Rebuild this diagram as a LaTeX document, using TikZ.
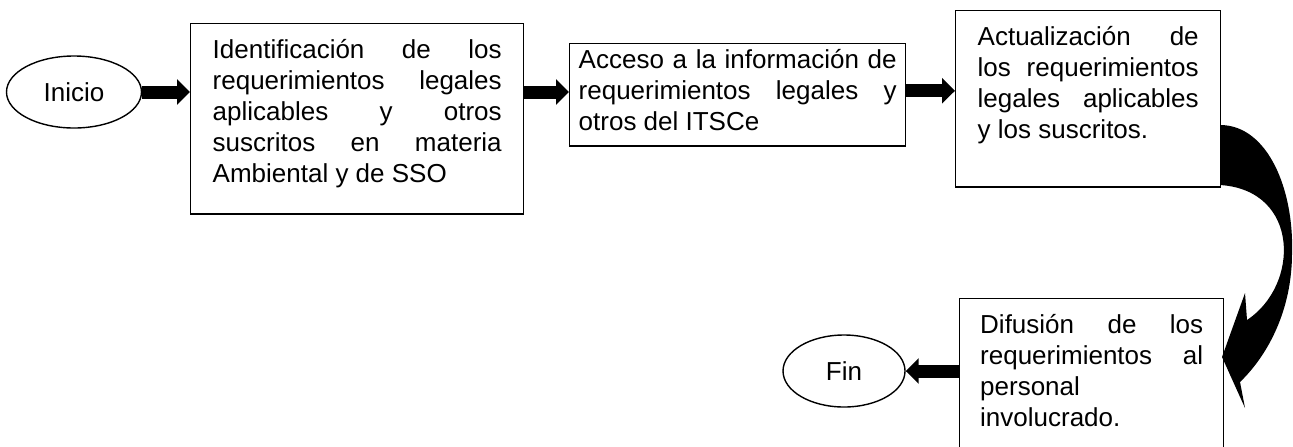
\documentclass[tikz,border=0pt]{standalone}
\usepackage{fontspec}
\setmainfont{Liberation Sans}
\usepackage{tikz}
\tikzset{
paso/.style={draw, line width=0.7pt, anchor=north west, align=justify, inner xsep=11pt, inner ysep=8pt,
  execute at begin node={\tolerance=9999\hyphenpenalty=10000}},
terminal/.style={draw, ellipse, line width=0.7pt, inner sep=0pt},
flecha/.style={line width=6.5pt, -{Triangle[width=12.5pt, length=6.5pt]}},
curva/.style={fill=black}
}
\usetikzlibrary{shapes.geometric, arrows.meta}
\newcommand{\bajo}[1]{\rule[-#1]{0pt}{0pt}}

\begin{document}
\begin{tikzpicture}[x=0.5pt, y=-0.5pt, font=\fontsize{13pt}{15.5pt}\selectfont]
			\path[use as bounding box, clip] (0,0) rectangle (1293,446);
			\node[terminal, minimum width=67.5pt, minimum height=36pt] (inicio) at (74,92) {Inicio};
			\node[paso, text width=144.5pt] (ident) at (190,23) {Identificación de los\linebreak requerimientos legales\linebreak aplicables y otros\linebreak suscritos en materia\linebreak Ambiental y de SSO\bajo{7.5pt}};
			\node[paso, text width=159pt, inner xsep=4.5pt, inner ysep=3pt] (acceso) at (569,43) {Acceso a la información de\linebreak requerimientos legales y\linebreak otros del ITSCe\bajo{4.5pt}};
			\node[paso, text width=110.5pt] (actual) at (955,10) {Actualización de\linebreak los requerimientos\linebreak legales aplicables\linebreak y los suscritos.\bajo{16pt}};
			\node[paso, text width=111.5pt, inner xsep=10.25pt] (difusion) at (959,298) {Difusión de los\linebreak requerimientos al\linebreak personal\linebreak involucrado.\bajo{16pt}};
			\node[terminal, minimum width=61pt, minimum height=36pt] (fin) at (844,371) {Fin};
			% ----
			\draw[flecha] (inicio.east) -- (inicio.east -| ident.west);
			\draw[flecha] (inicio.east -| ident.east) -- (inicio.east -| acceso.west);
			\draw[flecha] ([yshift=2pt]acceso.east) -- ([yshift=2pt]acceso.east -| actual.west);
			\draw[flecha] (fin.east -| difusion.west) -- (fin.east);
			% ----
			\path[curva]
			(1220,125) .. controls (1268,125) and (1294,190) ..
			(1292,253) .. controls (1292,310) and (1268,355) ..
			(1240,382) --
			(1245,408) --
			(1222,357) --
			(1245,293) --
			(1247,320) .. controls (1300,285) and (1300,190) ..
			(1220,185) -- cycle;
		\end{tikzpicture}
\end{document}
